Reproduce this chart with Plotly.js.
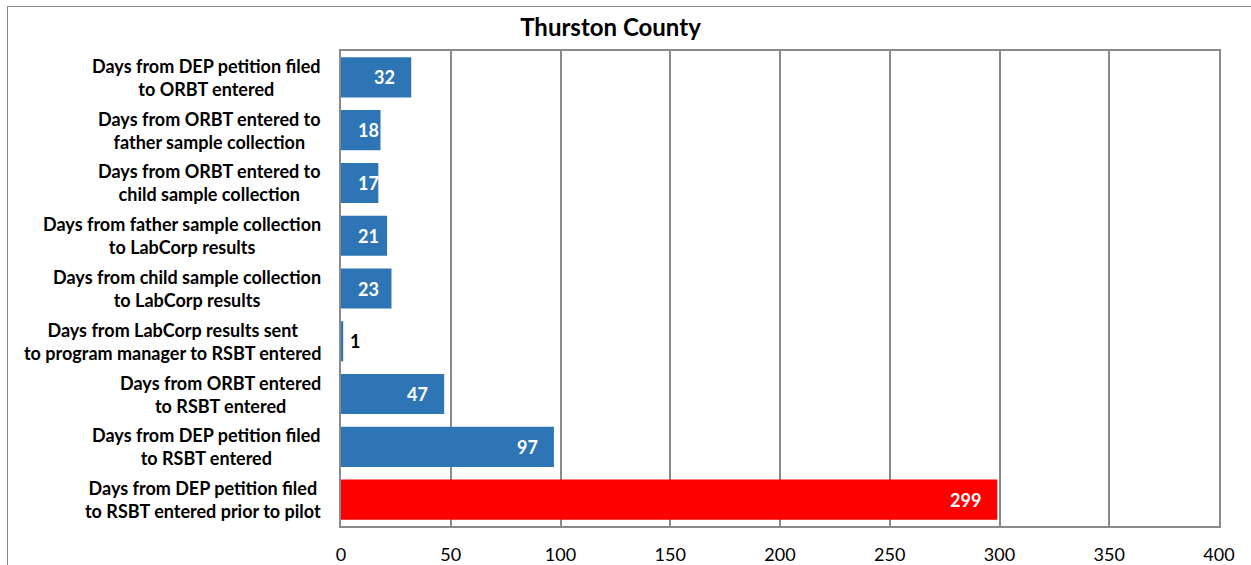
<!DOCTYPE html>
<html><head><meta charset="utf-8">
<script src="https://cdn.plot.ly/plotly-3.0.1.min.js"></script>
<style>
html,body{margin:0;padding:0;background:#fff;overflow:hidden;}
#frame{position:absolute;left:7px;top:6px;width:1300px;height:600px;border:1.5px solid #8a8a8a;box-sizing:border-box;}
#chart{position:absolute;left:0;top:0;width:1251px;height:565px;}
</style></head>
<body>
<div id="frame"></div>
<div id="chart"></div>
<script>
const categories = [
  "Days from DEP petition filed<br>to ORBT entered",
  "Days from ORBT entered to<br>father sample collection",
  "Days from ORBT entered to<br>child sample collection",
  "Days from father sample collection<br>to LabCorp results",
  "Days from child sample collection<br>to LabCorp results",
  "Days from LabCorp results sent<br>to program manager to RSBT entered",
  "Days from ORBT entered<br>to RSBT entered",
  "Days from DEP petition filed<br>to RSBT entered",
  "Days from DEP petition filed<br>to RSBT entered prior to pilot"
];
const values = [32, 18, 17, 21, 23, 1, 47, 97, 299];
const barColors = ["#2E75B6","#2E75B6","#2E75B6","#2E75B6","#2E75B6","#2E75B6","#2E75B6","#2E75B6","#FF0000"];
const xTicks = [0, 50, 100, 150, 200, 250, 300, 350, 400];

const FONT = "Lato, 'Open Sans', sans-serif";

const ids = categories.map((c, i) => "c" + i);

const annotations = [];
categories.forEach((c, i) => {
  annotations.push({
    xref: "paper", yref: "y", x: -0.02, y: ids[i],
    text: c, showarrow: false, xanchor: "right", yanchor: "middle", align: "center",
    font: {family: FONT, size: 18, color: "#000", weight: "bold"}
  });
});
values.forEach((v, i) => {
  const label = {xref: "x", yref: "y", y: ids[i], text: String(v), showarrow: false, yanchor: "middle",
                 font: {family: FONT, size: 18, color: "#fff", weight: "bold"}};
  if (v < 10) {
    Object.assign(label, {x: v, xanchor: "left", xshift: 5});
    label.font.color = "#000";
  } else if (v <= 23) {
    Object.assign(label, {x: 0, xanchor: "left", xshift: 15});
  } else {
    Object.assign(label, {x: v, xanchor: "right", xshift: -14});
  }
  annotations.push(label);
});

const trace = {
  type: "bar", orientation: "h",
  x: values, y: ids,
  marker: {color: barColors, line: {width: 0}},
  hoverinfo: "x"
};

const layout = {
  width: 1251, height: 565,
  margin: {l: 341, r: 32, t: 51, b: 39},
  paper_bgcolor: "rgba(0,0,0,0)", plot_bgcolor: "#fff",
  showlegend: false,
  bargap: 0.24,
  title: {text: "Thurston County", xref: "container", x: 0.488, xanchor: "center",
          yref: "container", y: 1 - 28/565, yanchor: "middle",
          font: {family: FONT, size: 24, color: "#000", weight: "bold"}},
  xaxis: {range: [0, 400], tickvals: xTicks, ticktext: xTicks.map(String),
          showgrid: true, gridcolor: "#8a8a8a", gridwidth: 2,
          showline: true, linecolor: "#8a8a8a", linewidth: 2, mirror: true,
          zeroline: false, ticks: "", ticklabelstandoff: 11,
          tickfont: {family: FONT, size: 18, color: "#000"}, fixedrange: true},
  yaxis: {autorange: "reversed", showticklabels: false, showgrid: false, zeroline: false,
          showline: true, linecolor: "#8a8a8a", linewidth: 2, mirror: true, ticks: "", fixedrange: true},
  annotations: annotations
};

Plotly.newPlot("chart", [trace], layout, {displayModeBar: false, staticPlot: true});
</script>
</body></html>
